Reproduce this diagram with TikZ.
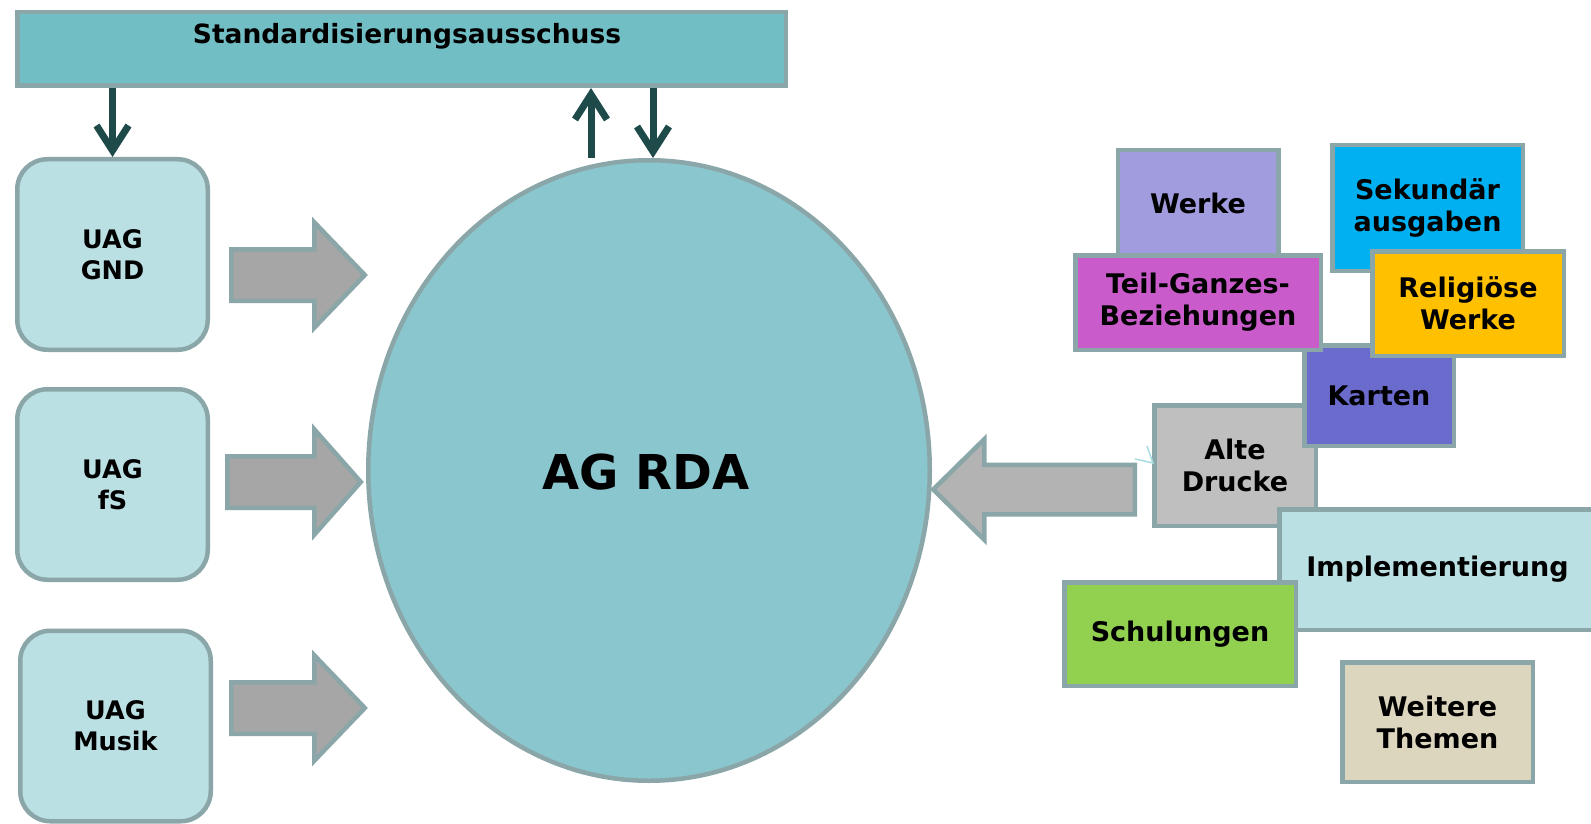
\documentclass[tikz,border=0pt]{standalone}
\usepackage{fontspec}
\setmainfont{DejaVu Sans}
\usetikzlibrary{shapes.geometric,arrows.meta}
\definecolor{bord}{HTML}{8AA6A8}
\definecolor{barc}{HTML}{72BEC5}
\definecolor{uagc}{HTML}{BBE0E3}
\definecolor{ellc}{HTML}{8AC6CE}
\definecolor{darkc}{HTML}{1F4A4A}
\definecolor{arrL}{HTML}{A6A6A6}
\definecolor{arrR}{HTML}{B3B3B3}
\definecolor{werkec}{HTML}{A09CDE}
\definecolor{sekc}{HTML}{00B0F0}
\definecolor{tgc}{HTML}{C95BCB}
\definecolor{relc}{HTML}{FFC000}
\definecolor{kartc}{HTML}{6B6BCE}
\definecolor{altc}{HTML}{BFBFBF}
\definecolor{schulc}{HTML}{92D050}
\definecolor{weitc}{HTML}{DDD6BE}
\definecolor{ghostc}{HTML}{A8DDE2}
\newcommand{\blkarrow}[7]{%
  \draw[barrow, fill=#7] ({#1},{#4-#5}) -- ({#2},{#4-#5}) -- ({#2},{#4-#6}) -- ({#3},{#4})
    -- ({#2},{#4+#6}) -- ({#2},{#4+#5}) -- ({#1},{#4+#5}) -- cycle;}
\tikzset{
  bx/.style={draw=bord, line width=4.5pt, align=center, inner sep=0pt, text=black,
    font=\fontsize{27}{32}\selectfont\bfseries},
  uag/.style={bx, fill=uagc, rounded corners=30pt, minimum width=190.5pt, minimum height=190.5pt,
    font=\fontsize{25.5}{31}\selectfont\bfseries},
  barrow/.style={draw=bord, line width=4.5pt, line join=miter},
  darr/.style={draw=darkc, line width=7pt, line join=miter,
    -{Straight Barb[length=25pt,width=32pt]}},
  ghost/.style={draw=ghostc, line width=1.5pt},
}
\begin{document}
\begin{tikzpicture}[x=1pt,y=-1pt]
\useasboundingbox (0,0) rectangle (1591,824);
\fill[white] (0,0) rectangle (1591,824);

% top bar
\node[bx, fill=barc, minimum width=768.5pt, minimum height=73.5pt] (bar) at (401.5,49) {};
\node[font=\fontsize{26.5}{31}\selectfont\bfseries, inner sep=0pt] (bartext) at (407,36) {Standardisierungsausschuss};

% UAG boxes
\node[uag] (gnd) at (112.5,254.5) {UAG\\GND};
\node[uag] (fs) at (112.5,484.5) {UAG\\fS};
\node[uag] (musik) at (115.5,726) {UAG\\Musik};

% central ellipse
\node[ellipse, draw=bord, line width=4.5pt, fill=ellc, minimum width=561.5pt, minimum height=620.5pt,
  inner sep=0pt] (agrda) at (649,470.5) {};
\node[font=\fontsize{48}{56}\selectfont\bfseries, inner sep=0pt] (agtext) at (646,472) {AG RDA};

% dark arrows
\draw[darr] (bar.south -| gnd.north) -- (gnd.north);
\draw[darr] (agrda.north -| 591,0) -- (bar.south -| 591,0);
\draw[darr] (bar.south -| 653,0) -- (agrda.north -| 653,0);

% block arrows
\blkarrow{231.25}{314.25}{364.8}{275}{25.75}{52.75}{arrL}
\blkarrow{227.25}{314.25}{360.8}{482}{25.75}{52.75}{arrL}
\blkarrow{231.25}{314.25}{364.8}{708}{25.75}{52.75}{arrL}
\blkarrow{1134.75}{984.25}{933.2}{489.5}{24.75}{50.25}{arrR}

% right cluster
\node[bx, fill=werkec, minimum width=160.5pt, minimum height=105.5pt] (werke) at (1198,203) {Werke};
\node[bx, fill=sekc, minimum width=190.5pt, minimum height=125.5pt] (sek) at (1427.5,208) {Sekundär\\ausgaben};
\node[bx, fill=altc, minimum width=161.5pt, minimum height=120.5pt] (alte) at (1235,465.5) {Alte\\Drucke};
\node[bx, fill=kartc, minimum width=149.5pt, minimum height=100.5pt] (karten) at (1379,395.5) {Karten};
\node[bx, fill=tgc, minimum width=245.5pt, minimum height=94.5pt] (tg) at (1198,302.5) {Teil-Ganzes-\\Beziehungen};
\node[bx, fill=relc, minimum width=191.5pt, minimum height=104.5pt] (rel) at (1468,303.5) {Religiöse\\Werke};
\node[bx, fill=uagc, minimum width=316.5pt, minimum height=120.5pt] (impl) at (1437.5,569.5) {Implementierung};
\node[bx, fill=schulc, minimum width=231.5pt, minimum height=103.5pt] (schul) at (1180,634) {Schulungen};
\node[bx, fill=weitc, minimum width=190.5pt, minimum height=119.5pt] (weit) at (1437.5,722) {Weitere\\Themen};

% faint stray arrow tip at Alte Drucke
\coordinate (gtip) at (1153,463);
\draw[ghost] (1135,459) -- (gtip) -- (1147,446);
\end{tikzpicture}
\end{document}
